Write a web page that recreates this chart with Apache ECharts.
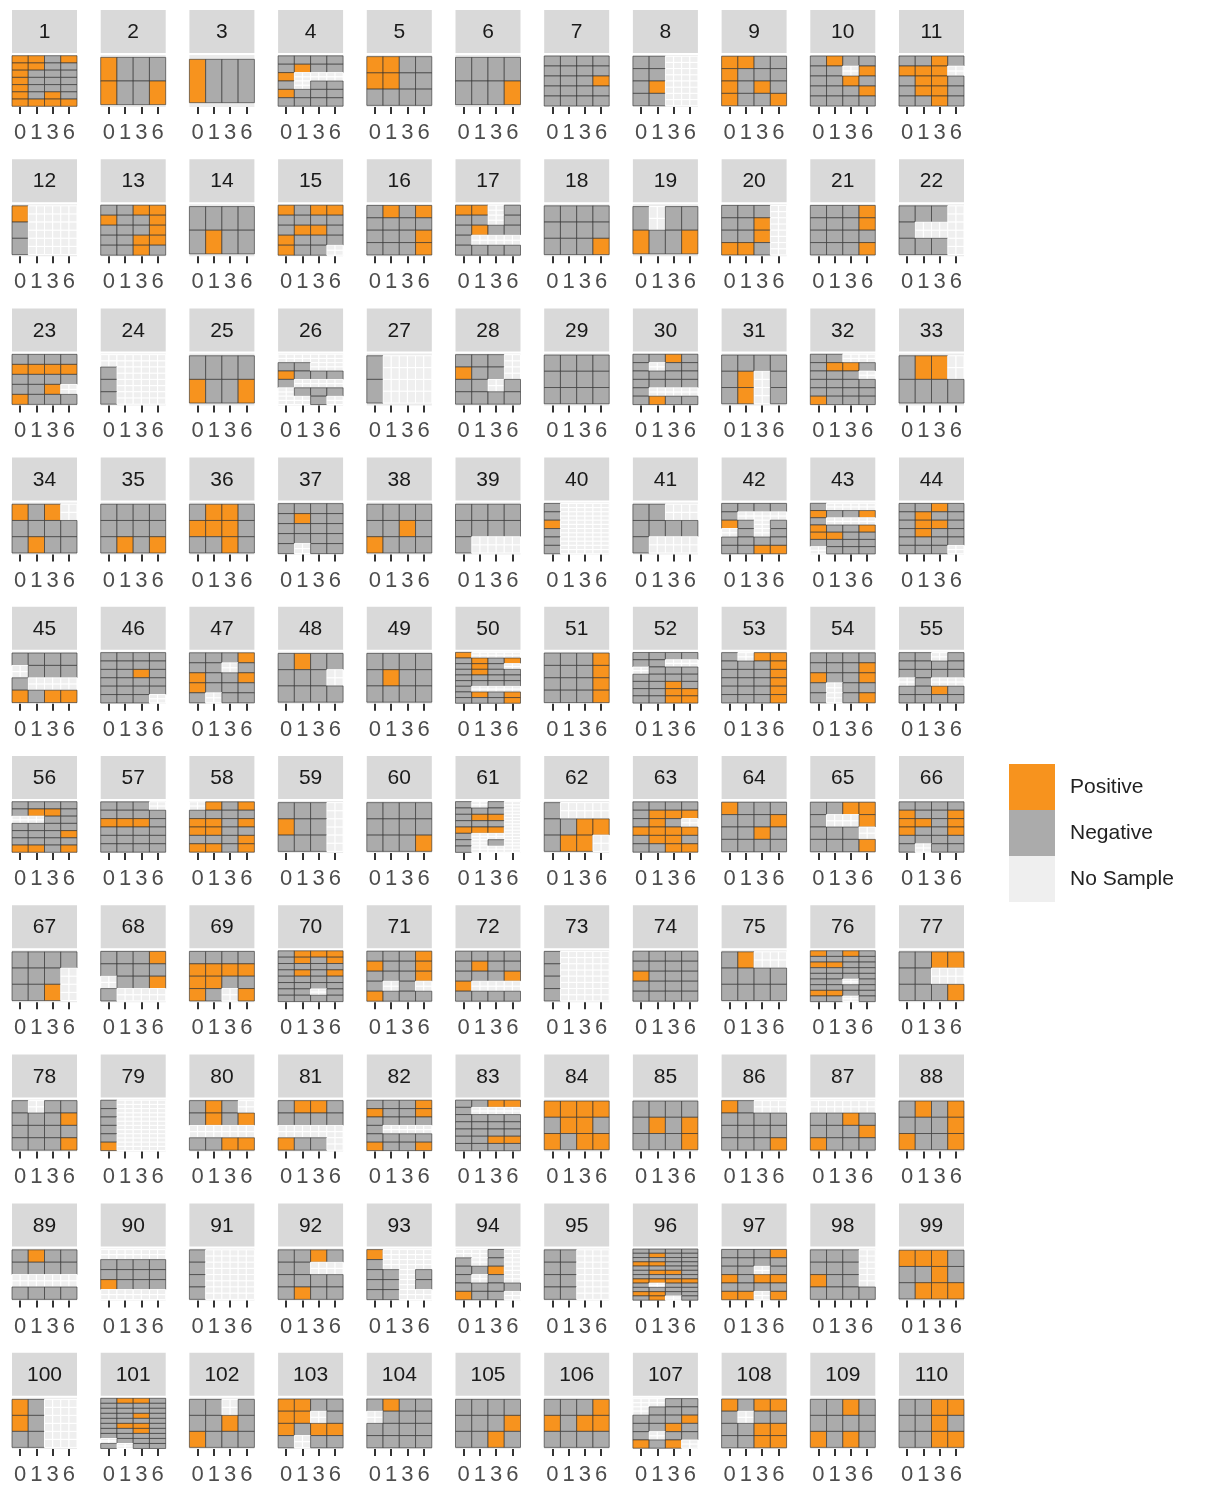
<!DOCTYPE html>
<html>
<head>
<meta charset="utf-8">
<title>Sample status by subject and time point</title>
<script src="https://cdn.jsdelivr.net/npm/echarts@6/dist/echarts.min.js"></script>
<style>
  html, body { margin: 0; padding: 0; background: #ffffff; }
  #chart { width: 1205px; height: 1486px; }
</style>
</head>
<body>
<div id="chart"></div>
<script>
// Time points shown under every panel
const timePoints = ['0', '1', '3', '6'];

// Status legend: code -> label / colour
const statusLabels = ['No Sample', 'Negative', 'Positive'];
const statusColors = ['#EFEFEF', '#ABABAB', '#F7931E'];

// Per-subject sample grids, one string per subject.
// Rows are separated by spaces (top row first); each row has one
// letter per time point: P = positive, N = negative, X = no sample.
const subjects001to011 = [
  'PPNP PPNN PNNN PNNN PNNN PNPN PPPP',
  'PNNN PNNP',
  'PNNN',
  'NNNN NPNN PXXX NXNN PNNN NNNN',
  'PPNN PPNN NNNN',
  'NNNN NNNP',
  'NNNN NNNN NNNP NNNN NNNN',
  'NNXX NNXX NPXX NNXX',
  'PPNN PNNN PNPN PNNP',
  'NPNN NNXP NNPN NNNP NNNN',
  'NNPN PPPX NPPN NPPN NNPN'
];
const subjects012to022 = [
  'PXXX NXXX NXXX',
  'NNPP PNNP NNNP NNPP NNPN',
  'NNNN NPNN',
  'PNPP NNNN NPPN PNNN PNNX',
  'NPNP NNNN NNNP NNNP',
  'PPXN NNXN NPNN NXXX NNNN',
  'NNNN NNNN NNNP',
  'NXNN PNNP',
  'NNNX NNPX NNPX PPNX',
  'NNNP NNNP NNNN NNNP',
  'NNNX NXXX NNNX'
];
const subjects023to033 = [
  'NNNN PPPP NNNN NNPX PNNN',
  'XXXX NXXX NXXX NXXX',
  'NNNN PNNP',
  'XXXX NNXX PNNN NXXX XNNN XXNX',
  'NXXX NXXX',
  'NNNX PNNX NNXN NNNN',
  'NNNN NNNN NNNN',
  'NNPN NXNN NNNN NNNN NXXX NPNN',
  'NNNN NPXN NPXN',
  'NNXX NPPN NNNX NNNN NNNN PNNN',
  'NPPX NNNN'
];
const subjects034to044 = [
  'PNPX NNNN NPNN',
  'NNNN NNNN NPNP',
  'NPPN PPPN NNPN',
  'NNNN NPNN NNNN NNNN NXNN',
  'NNNN NNPN PNNN',
  'NNNN NNNN NXXX',
  'NXXX NXXX PXXX NXXX NXXX NXXX',
  'NNXX NNNN NXXX',
  'NNNN NXXX PNXN XNXN NNNN NNPP',
  'NXXX PNNP NXXX PNNP PPNN NNNN XNNN',
  'NNPN NPNN NPPN NPNN NNNN NNNX'
];
const subjects045to055 = [
  'NNNN XNNN NXXX PNPP',
  'NNNN NNNN NNPN NNNN NNNN NNNX',
  'NNNP NNXN PNNP PNNN NXNN',
  'NPNN NNNX NNNN',
  'NNNN NPNN NNNN',
  'PXXX NPNP NPNX NPNN NNNN NNNN NXXX NPNP NNNP',
  'NNNP NNNP NNNP NNNP',
  'NNNN NNXX XNNN NNNN NNPN NNPP NNPP',
  'NXPP NNNP NNNP NNNP NNNP NNNP',
  'NNNN NNNP PNNP NXNN NXNP',
  'NNXN NNNN NNNN XNXX NNPN NNNN'
];
const subjects056to066 = [
  'NNNN NPPN XXNN NNNN NNNP NNNN PPNP',
  'NNNX NNNN PPPN NNNN NNNN NNNN',
  'XPNP NNNN PPNP PPNN NNNP PPNP',
  'NNNX PNNX NNNX',
  'NNNN NNNN NNNP',
  'NXNX NNNX NPPX NNNX PPPX NXXX NXNX NXXX',
  'NXXX NNPP NPPX',
  'NNNN NPPP NPNX PPPP NPPN NNPP',
  'PNNN NNNP NNPN NNNN',
  'NNPP NXXP NNNX NNNP',
  'NNNN PNNP PPNP PNNP NNNN NXNN'
];
const subjects067to077 = [
  'NNNN NNNX NNPX',
  'NNNP NNNN XNNP NXXX',
  'NNNN PPPP PPNN PNXP',
  'NPPP NPNP NNNN NPNP NNNN NNNN NNXN NNNN',
  'NNNP PNNP NNNP NXNX PNNN',
  'NNNN NPNN NNNP PXXX NNNN',
  'NXXX NXXX NXXX NXXX',
  'NNNN NNNN PNNN NNNN NNNN',
  'NPXX NNNN NNNN',
  'PNPN NNNN PPNN NNNN NNNN NNXN NNNN PPNN NNXN',
  'NNPP NNXX NNNP'
];
const subjects078to088 = [
  'NXNN NNNP NNNN NNNP',
  'NXXX NXXX NXXX NXXX NXXX PXXX',
  'NPNX NPNP XXXX NNPP',
  'NPPN NNNN XXXX PNNX',
  'NNNP PNNP NNNN NXXX NNNN PNNP',
  'NNPP NXXX NNNN NNNN NNNN NNPP NNNN',
  'PPPP NPPN PNPP',
  'NNNN NPNP NNNP',
  'PNXX NNNN NNNN NNNP',
  'XXXX NNPN NNNP PNNN',
  'NPNP NNNP PNNP'
];
const subjects089to099 = [
  'NPNN NNNN XXXX NNNN',
  'XXXX NNNN NNNN PNNN XXXX',
  'NXXX NXXX NXXX NXXX',
  'NNPN NNXX NNNN NPNN',
  'PXXX NXXX NNXN NNXN NNXX',
  'XXNX NXNX NNPX NXNX NNNN PNNX',
  'NNXX NNXX NNXX NNXX',
  'NNNN NPNN NNNN PPNN NNNN NPPN NNNN PPPP NXNN NNNN PPNN NPXN',
  'NNNP NNNN NNXN PNPP NNNN PPXP',
  'NNNX NNNX PNNX NNNN',
  'PPPN NNPN NPPP'
];
const subjects100to110 = [
  'PNXX PNXX NNXX',
  'NPPN NNNN NNNN NNPN NNNN NPPN NNPN NNNN XNNN NXNN',
  'NNXN NNPN PNNN',
  'PPNN PPXN PNPP NXNN',
  'NPNN XNNN NNNN NNNN',
  'NNNN NNNP NNPN',
  'NNNP PNPP NNNN',
  'XXNN XNNN NNNP NNPN NXNN PNPX',
  'PNPP NXNN NNPP NNPP',
  'NNPN NNNN PNPN',
  'NNPP NNPN NNPP'
];

const subjectGrids = [].concat(
  subjects001to011, subjects012to022, subjects023to033, subjects034to044,
  subjects045to055, subjects056to066, subjects067to077, subjects078to088,
  subjects089to099, subjects100to110
);
const codeOf = { X: 0, N: 1, P: 2 };

// Panel geometry (11 panels per row)
const PER_ROW = 11;
const LEFT0 = 12, STEP_X = 88.7, PANEL_W = 65;
const TOP0 = 55, STEP_Y = 149.2, PANEL_H = 52;
const STRIP_H = 43, STRIP_GAP = 2;
const FONT = '"Liberation Sans", Arial, Helvetica, sans-serif';

const grids = [], xAxes = [], yAxes = [], series = [], strips = [];

// one tile per (time point, row); x is a category band, y a unit on the value axis
function drawCell(params, api) {
  const col = api.value(0), row = api.value(1), code = api.value(2);
  const center = api.coord([col, row]);
  const size = api.size([1, 1]);
  const w = size[0], h = size[1];
  const x = center[0] - w / 2, y = center[1] - h / 2;
  const fill = api.visual('color');
  if (code === 0) {
    return {
      type: 'group',
      children: [
        { type: 'rect', shape: { x: x, y: y, width: w, height: h }, style: { fill: fill, stroke: '#ffffff', lineWidth: 1 } },
        { type: 'line', shape: { x1: center[0], y1: y, x2: center[0], y2: y + h }, style: { stroke: '#ffffff', lineWidth: 1.2 } },
        { type: 'line', shape: { x1: x, y1: center[1], x2: x + w, y2: center[1] }, style: { stroke: '#ffffff', lineWidth: 1.2 } }
      ]
    };
  }
  return {
    type: 'rect',
    shape: { x: x, y: y, width: w, height: h },
    style: { fill: fill, stroke: 'rgba(45,45,45,0.75)', lineWidth: 0.8 }
  };
}

subjectGrids.forEach(function (grid, i) {
  const rows = grid.split(' ');
  const c = i % PER_ROW, r = Math.floor(i / PER_ROW);
  const left = LEFT0 + c * STEP_X;
  const top = TOP0 + r * STEP_Y;

  grids.push({
    left: left, top: top, width: PANEL_W, height: PANEL_H,
    show: true, backgroundColor: '#EBEBEB', borderWidth: 0
  });
  xAxes.push({
    type: 'category', gridIndex: i, data: timePoints, boundaryGap: true,
    position: 'bottom',
    splitLine: { show: false },
    axisLine: { show: true, onZero: false, lineStyle: { color: '#333333', width: 1, opacity: 0 } },
    axisTick: { show: true, inside: false, alignWithLabel: true, interval: 0, length: 7,
                lineStyle: { color: '#333333', width: 2, opacity: 1 } },
    axisLabel: { interval: 0, margin: 15, fontSize: 22, color: '#4D4D4D', fontFamily: FONT }
  });
  yAxes.push({
    type: 'value', gridIndex: i, min: -0.6, max: rows.length - 0.4, inverse: true,
    show: false, splitLine: { show: false }
  });

  const data = [];
  rows.forEach(function (rowStr, ri) {
    rowStr.split('').forEach(function (ch, ci) {
      data.push([ci, ri, codeOf[ch]]);
    });
  });
  series.push({
    type: 'custom', name: 'Subject ' + (i + 1),
    xAxisIndex: i, yAxisIndex: i,
    renderItem: drawCell,
    encode: { x: 0, y: 1 },
    data: data,
    silent: true
  });

  // facet strip with the subject number
  strips.push({
    type: 'group', left: left, top: top - STRIP_GAP - STRIP_H,
    children: [
      { type: 'rect', shape: { x: 0, y: 0, width: PANEL_W, height: STRIP_H }, style: { fill: '#D9D9D9' } },
      { type: 'text', x: PANEL_W / 2, y: STRIP_H / 2 + 1,
        style: { text: String(i + 1), fill: '#1A1A1A', font: '21px ' + FONT, align: 'center', verticalAlign: 'middle' } }
    ]
  });
});

const chart = echarts.init(document.getElementById('chart'), null, { renderer: 'canvas' });
chart.setOption({
  animation: false,
  backgroundColor: '#ffffff',
  grid: grids,
  xAxis: xAxes,
  yAxis: yAxes,
  series: series,
  visualMap: {
    type: 'piecewise',
    dimension: 2,
    orient: 'vertical',
    align: 'left',
    left: 994, top: 749,
    itemWidth: 46, itemHeight: 46, itemGap: 0,
    itemSymbol: 'rect',
    textGap: 15,
    selectedMode: false,
    showLabel: true,
    textStyle: { fontSize: 21, color: '#222222', fontFamily: FONT },
    pieces: [
      { value: 2, label: statusLabels[2], color: statusColors[2] },
      { value: 1, label: statusLabels[1], color: statusColors[1] },
      { value: 0, label: statusLabels[0], color: statusColors[0] }
    ]
  },
  graphic: strips
});
</script>
</body>
</html>
